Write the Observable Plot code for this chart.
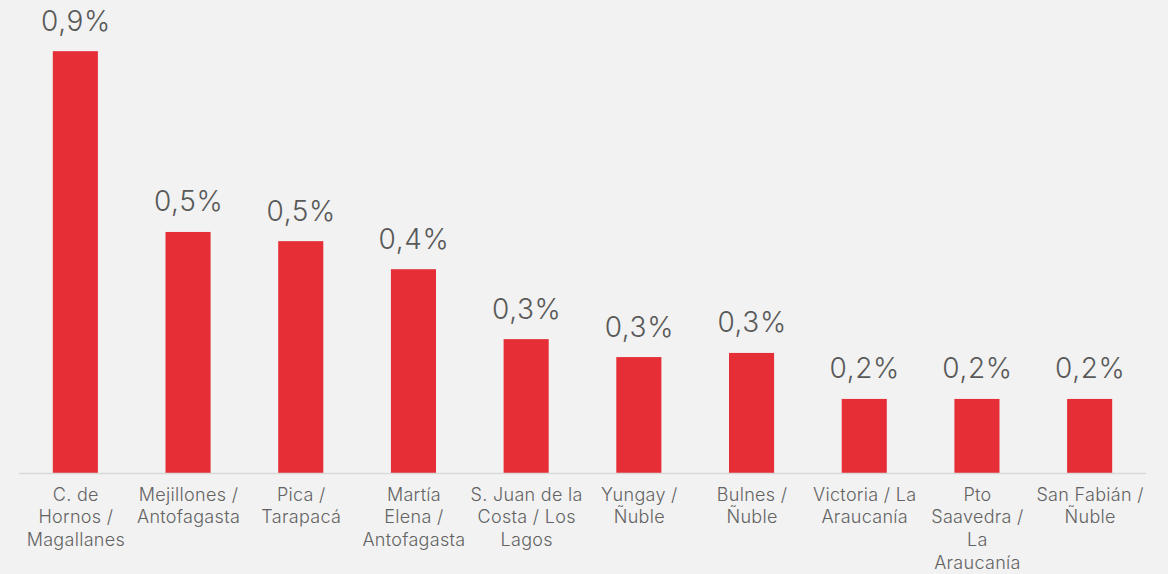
<!DOCTYPE html>
<html>
<head>
<meta charset="utf-8">
<script src="https://cdn.jsdelivr.net/npm/d3@7"></script>
<script src="https://cdn.jsdelivr.net/npm/@observablehq/plot@0.6"></script>
<style>
  html, body { margin: 0; padding: 0; background: #F2F2F2; }
  #chart svg { display: block; background: #F2F2F2; }
  #chart svg g[aria-label="x-axis tick label"] text { letter-spacing: 0.3px; }
  #chart svg g[aria-label="text"] text { letter-spacing: 0.6px; }
</style>
</head>
<body>
<div id="chart"></div>
<script>
const categories = [
  "C. de\nHornos /\nMagallanes",
  "Mejillones /\nAntofagasta",
  "Pica /\nTarapacá",
  "Martía\nElena /\nAntofagasta",
  "S. Juan de la\nCosta / Los\nLagos",
  "Yungay /\nÑuble",
  "Bulnes /\nÑuble",
  "Victoria / La\nAraucanía",
  "Pto\nSaavedra /\nLa\nAraucanía",
  "San Fabián /\nÑuble"
];
const values = [0.917, 0.524, 0.504, 0.443, 0.291, 0.252, 0.261, 0.161, 0.161, 0.161];

const data = categories.map((c, i) => ({category: c, value: values[i]}));
const fmt = v => v.toFixed(1).replace(".", ",") + "%";

const chart = Plot.plot({
  width: 1168,
  height: 574,
  marginLeft: 19,
  marginRight: 22,
  marginTop: 13,
  marginBottom: 101,
  style: {background: "#F2F2F2", fontFamily: "Inter, 'Open Sans', sans-serif"},
  x: {domain: categories, paddingInner: 0.6, paddingOuter: 0.3, round: false, label: null},
  y: {domain: [0, 1], axis: null},
  marks: [
    Plot.barY(data, {x: "category", y: "value", fill: "#E52E36"}),
    Plot.ruleY([0], {stroke: "#D9D9D9", strokeWidth: 1.5}),
    Plot.text(data, {
      x: "category", y: "value", text: d => fmt(d.value),
      lineAnchor: "bottom", dy: -21, fontSize: 28, fontWeight: 300, fill: "#595959"
    }),
    Plot.axisX({
      tickSize: 0, tickPadding: 11, fontSize: 18, fontWeight: 300,
      lineHeight: 1.26, fill: "#636363", label: null
    })
  ]
});
document.getElementById("chart").appendChild(chart);
</script>
</body>
</html>
